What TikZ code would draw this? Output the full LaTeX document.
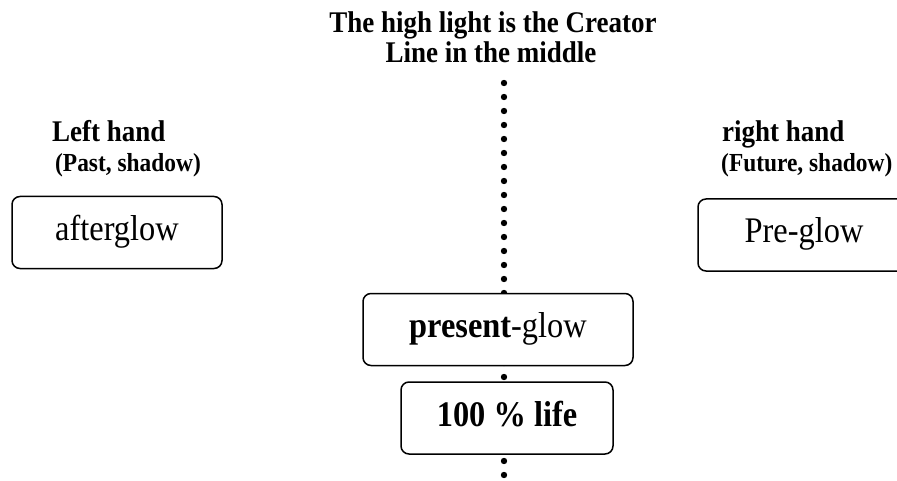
\documentclass[tikz,border=0pt]{standalone}
\usepackage{fontspec}
\setmainfont{Liberation Serif}[FakeStretch=0.9]
\usepackage{tikz}

\begin{document}
\begin{tikzpicture}[x=1pt, y=-1pt,
    glowbox/.style={draw, line width=1.5pt, rounded corners=8pt, fill=white,
      font=\fontsize{36}{36}\selectfont, text height=24pt, text depth=8pt,
      minimum height=72pt},
    handlabel/.style={anchor=base west, inner sep=0pt, font=\fontsize{30}{30}\selectfont\bfseries},
    shadowlabel/.style={anchor=base west, inner sep=0pt, font=\fontsize{26}{26}\selectfont\bfseries},
    titlelabel/.style={anchor=base, inner sep=0pt, font=\fontsize{30}{30}\selectfont\bfseries}]
  \def\linex{504}
  \def\dotgap{14}
  \def\dotradius{3.2pt}

  \useasboundingbox (0,0) rectangle (897,481);

  % creator line
  \foreach \k in {0,...,28}
    \fill (\linex, 83+\k*\dotgap) circle[radius=\dotradius];

  \node[titlelabel] (title1) at (493,33) {The high light is the Creator};
  \node[titlelabel] (title2) at (491,63) {Line in the middle};

  % left
  \node[handlabel] (lefthand) at (52,142) {Left hand};
  \node[shadowlabel] (past) at (55,172) {(Past, shadow)};
  \node[glowbox, minimum width=210pt] (afterglow) at (117,232.5) {afterglow};

  % right
  \node[handlabel] (righthand) at (722,142) {right hand};
  \node[shadowlabel] (future) at (721,172) {(Future, shadow)};
  \node[glowbox, minimum width=212pt] (preglow) at (804,235) {Pre-glow};

  % middle
  \node[glowbox, minimum width=270pt] (presentglow) at (498,329.5) {\textbf{present}-glow};
  \node[glowbox, minimum width=212pt] (life) at (507,418) {\textbf{100 \% life}};
\end{tikzpicture}
\end{document}
